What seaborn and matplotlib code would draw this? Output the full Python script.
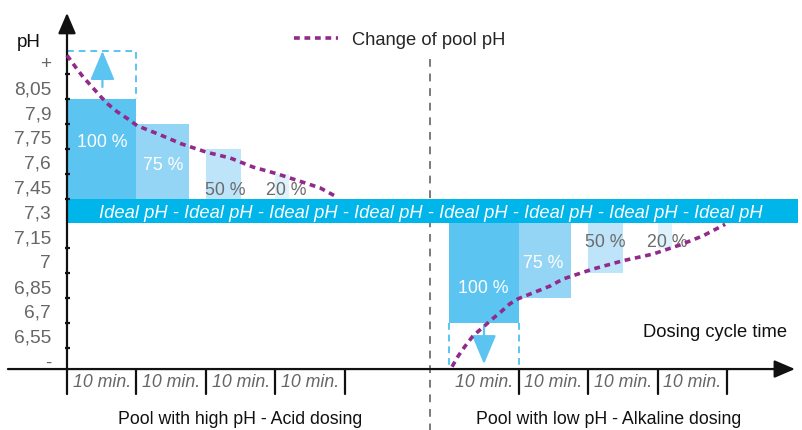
import matplotlib
matplotlib.use("Agg")
import matplotlib.pyplot as plt
import seaborn as sns
import numpy as np

# ---------------- data ----------------
ytick_pos = [8.2, 8.05, 7.9, 7.75, 7.6, 7.45, 7.3, 7.15, 7.0, 6.85, 6.7, 6.55, 6.4]
ytick_labels = ["+", "8,05", "7,9", "7,75", "7,6", "7,45", "7,3", "7,15", "7", "6,85", "6,7", "6,55", "-"]
ytick_minor = [8.125, 7.975, 7.825, 7.675, 7.525, 7.375, 7.075, 6.925, 6.775, 6.625, 6.475]

ideal_low, ideal_high = 7.225, 7.375
slot_minutes = 10
duty = [1.0, 0.75, 0.5, 0.2]
duty_labels = ["100 %", "75 %", "50 %", "20 %"]
high_starts = [0, 10, 20, 30]
low_starts = [55, 65, 75, 85]
high_bar_tops = [7.975, 7.825, 7.675, 7.525]
low_bar_bottoms = [6.625, 6.775, 6.925, 7.075]
bar_colors = ["#5bc4f1", "#94d5f5", "#bde4f8", "#dff2fc"]
pct_text_colors = ["white", "white", "#6b6b6b", "#6b6b6b"]
slot_label = "10 min."

curve_high_x = [0, 1.3, 2.3, 3.6, 4.75, 5.9, 7.2, 8.8, 10.1, 13.4, 16.5, 20.1, 23.5, 26.8, 30.2, 33.5, 36.4, 38.6]
curve_high_y = [8.24, 8.165, 8.11, 8.05, 7.995, 7.945, 7.90, 7.855, 7.815, 7.76, 7.705, 7.655, 7.62, 7.565, 7.525, 7.48, 7.44, 7.39]
curve_low_x = [55.4, 56.3, 57.3, 58.4, 59.9, 61.2, 62.4, 63.7, 64.9, 67.0, 69.5, 71.4, 75.7, 80.0, 84.3, 88.2, 91.5, 94.7]
curve_low_y = [6.36, 6.425, 6.485, 6.545, 6.60, 6.648, 6.69, 6.739, 6.77, 6.805, 6.847, 6.89, 6.95, 7.0, 7.04, 7.095, 7.15, 7.22]

high_box_top = 8.266
axis_y = 6.346
xaxis_end = 104.75
yaxis_top = 8.496
sep_bottom = 6.195
divider_x = 52.2
divider_top = 8.22
band_end = 105.2

# ---------------- style ----------------
sns.set_theme(style="white")
plt.rcParams['font.family'] = ['Liberation Sans', 'DejaVu Sans']
FS = 12.8
GRAY = "#666666"
PURPLE = "#922a8b"
BLUE = "#5bc4f1"

fig = plt.figure(figsize=(8.02, 4.31), dpi=100)
ax = fig.add_axes([0, 0, 1, 1])
ax.set_xlim(-9.64, 105.76)
ax.set_ylim(5.978, 8.580)
for s in ["top", "right", "bottom"]:
    ax.spines[s].set_visible(False)
ax.spines["left"].set_position(("data", 0))
ax.spines["left"].set_visible(False)
ax.set_xticks([])
ax.patch.set_alpha(0)

# y axis with arrow
ax.annotate("", xy=(0, yaxis_top), xytext=(0, sep_bottom),
            arrowprops=dict(arrowstyle="-|>,head_length=0.7,head_width=0.3", color="#111111",
                            lw=1.6, mutation_scale=18, shrinkA=0, shrinkB=0), zorder=6)
# x axis with arrow
ax.annotate("", xy=(xaxis_end, axis_y), xytext=(-8.5, axis_y),
            arrowprops=dict(arrowstyle="-|>,head_length=0.7,head_width=0.3", color="#111111",
                            lw=1.6, mutation_scale=18, shrinkA=0, shrinkB=0), zorder=6)

# y ticks
ax.set_yticks(ytick_pos)
ax.set_yticklabels(ytick_labels, color=GRAY, fontsize=13.8)
ax.tick_params(axis="y", which="major", length=0, pad=11.5, left=True)
for yv in ytick_minor:
    ax.plot([-0.25, 0.45], [yv, yv], color="#111111", lw=1.6, zorder=7, solid_capstyle="butt")

# bars
for i in range(4):
    ax.bar(high_starts[i], high_bar_tops[i] - ideal_high, width=duty[i] * slot_minutes,
           bottom=ideal_high, align="edge", color=bar_colors[i], linewidth=0, zorder=2)
    ax.bar(low_starts[i], ideal_low - low_bar_bottoms[i], width=duty[i] * slot_minutes,
           bottom=low_bar_bottoms[i], align="edge", color=bar_colors[i], linewidth=0, zorder=2)

# ideal band
ax.barh((ideal_low + ideal_high) / 2, band_end, height=ideal_high - ideal_low, left=0,
        color="#00b5ea", linewidth=0, zorder=3)
ax.text(52.4, (ideal_low + ideal_high) / 2 - 0.008,
        " - ".join(["Ideal pH"] * 8), color="white", style="italic",
        fontsize=13.2, ha="center", va="center", zorder=4)

# percentage labels
pct_high_pos = [(5.1, 7.718), (13.9, 7.578), (22.8, 7.43), (31.5, 7.43)]
pct_low_pos = [(59.9, 6.838), (68.5, 6.988), (77.4, 7.116), (86.4, 7.116)]
for i in range(4):
    ax.text(*pct_high_pos[i], duty_labels[i], color=pct_text_colors[i], fontsize=FS,
            ha="center", va="center", zorder=5)
    ax.text(*pct_low_pos[i], duty_labels[i], color=pct_text_colors[i], fontsize=FS,
            ha="center", va="center", zorder=5)

# dashed boxes
dash_kw = dict(color=BLUE, lw=1.4, linestyle=(0, (3.5, 2.5)), zorder=2)
ax.plot([high_starts[0], high_starts[0] + slot_minutes, high_starts[0] + slot_minutes],
        [high_box_top, high_box_top, high_bar_tops[0]], **dash_kw)
ax.plot([low_starts[0], low_starts[0]], [low_bar_bottoms[0], axis_y], **dash_kw)
ax.plot([low_starts[0] + slot_minutes] * 2, [low_bar_bottoms[0], axis_y], **dash_kw)

# arrows inside boxes
arr_kw = dict(arrowstyle="-|>,head_length=1.0,head_width=0.42", color=BLUE, lw=1.6,
              mutation_scale=18, shrinkA=0, shrinkB=0)
ax.annotate("", xy=(5.1, high_box_top), xytext=(5.1, 8.049), arrowprops=arr_kw, zorder=3)
ax.annotate("", xy=(60.0, 6.376), xytext=(60.0, 6.606), arrowprops=arr_kw, zorder=3)

# slot separators and labels
for st in high_starts:
    ax.plot([st + slot_minutes] * 2, [axis_y, sep_bottom], color="#111111", lw=1.6, zorder=6)
    ax.text(st + slot_minutes / 2, 6.268, slot_label, color=GRAY, style="italic",
            fontsize=FS, ha="center", va="center")
for st in low_starts:
    ax.plot([st + slot_minutes] * 2, [axis_y, sep_bottom], color="#111111", lw=1.6, zorder=6)
    ax.text(st + slot_minutes / 2, 6.268, slot_label, color=GRAY, style="italic",
            fontsize=FS, ha="center", va="center")

# divider
ax.plot([divider_x, divider_x], [divider_top, 5.978], color="#7a7a7a", lw=1.4,
        linestyle=(0, (4, 3.5)), zorder=1)

# curves
line_kw = dict(color=PURPLE, linewidth=2.6, linestyle=(0, (1.6, 1.3)), sort=False)
sns.lineplot(x=curve_high_x, y=curve_high_y, ax=ax, label="Change of pool pH", zorder=8, **line_kw)
sns.lineplot(x=curve_low_x, y=curve_low_y, ax=ax, zorder=8, **line_kw)
ax.legend(loc="center left", bbox_to_anchor=(0.366, 0.905), frameon=False, fontsize=13.2,
          handlelength=2.45, handletextpad=0.75, borderpad=0, borderaxespad=0)

# texts
ax.text(-5.5, 8.325, "pH", color="#111111", fontsize=13.5, ha="center", va="center")
ax.text(93.2, 6.575, "Dosing cycle time", color="#111111", fontsize=13.2, ha="center", va="center")
ax.text(24.9, 6.045, "Pool with high pH - Acid dosing", color="#111111", fontsize=FS,
        ha="center", va="center")
ax.text(78.0, 6.045, "Pool with low pH - Alkaline dosing", color="#111111", fontsize=FS,
        ha="center", va="center")

ax.set_xlabel("")
ax.set_ylabel("")
fig.savefig("out.png", dpi=100)
